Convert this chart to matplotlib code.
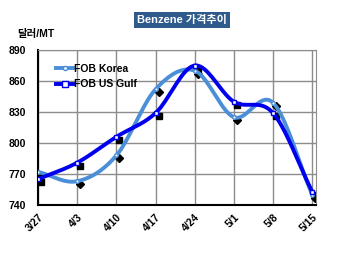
import numpy as np
import matplotlib.pyplot as plt
from matplotlib.transforms import ScaledTranslation

plt.rcParams['font.family'] = ['Liberation Sans', 'Noto Sans CJK KR', 'DejaVu Sans']

dates = ["3/27", "4/3", "4/10", "4/17", "4/24", "5/1", "5/8", "5/15"]
korea = [772, 763, 788, 852, 870, 825, 839, 750]
usgulf = [765, 781, 806, 829, 875, 840, 829, 753]


def smooth(y, n=20):
    # catmull-rom style smoothing like excel's smoothed line
    y = np.asarray(y, float)
    p = np.concatenate([[2 * y[0] - y[1]], y, [2 * y[-1] - y[-2]]])
    xs, ys = [], []
    for i in range(len(y) - 1):
        t = np.linspace(0, 1, n, endpoint=False)
        p0, p1, p2, p3 = p[i], p[i + 1], p[i + 2], p[i + 3]
        v = 0.5 * (2 * p1 + (-p0 + p2) * t + (2 * p0 - 5 * p1 + 4 * p2 - p3) * t ** 2
                   + (-p0 + 3 * p1 - 3 * p2 + p3) * t ** 3)
        xs.append(i + t)
        ys.append(v)
    xs.append([len(y) - 1])
    ys.append([y[-1]])
    return np.concatenate(xs), np.concatenate(ys)


fig = plt.figure(figsize=(3.5, 2.54), dpi=100)
ax = fig.add_axes([0.109, 0.193, 0.794, 0.61])
x = np.arange(len(dates))

shadow = ax.transData + ScaledTranslation(3 / 100, -3 / 100, fig.dpi_scale_trans)
ax.plot(x, korea, 'D', color='black', ms=4, transform=shadow, zorder=2)
ax.plot(x, usgulf, 's', color='black', ms=5, transform=shadow, zorder=2)

kx, ky = smooth(korea)
gx, gy = smooth(usgulf)
ax.plot(kx, ky, color='#4a8fd8', lw=2.8, zorder=3)
ax.plot(gx, gy, color='#0000ee', lw=2.8, zorder=4)
ax.plot(x, korea, 'o', color='#4a8fd8', mfc='white', ms=2.5, zorder=5)
ax.plot(x, usgulf, 's', color='#0000ee', mfc='white', ms=3, zorder=5)

# legend handles
ax.plot([], [], color='#4a8fd8', lw=2.8, marker='o', mfc='white', ms=3, label='FOB Korea')
ax.plot([], [], color='#0000ee', lw=2.8, marker='s', mfc='white', ms=4, label='FOB US Gulf')
ax.legend(loc='upper left', bbox_to_anchor=(0.05, 0.94), frameon=False, handlelength=1.6,
          handletextpad=0.1, borderaxespad=0, labelspacing=0.55,
          prop={'weight': 'bold', 'size': 7.5})

ax.set_xlim(0, 7.1)
ax.set_ylim(740, 890)
ax.set_yticks(range(740, 891, 30))
ax.set_xticks(x)
ax.set_xticklabels(dates, rotation=45, ha='right', rotation_mode='anchor')
ax.tick_params(labelsize=7.5, length=0)
ax.tick_params(axis='y', pad=9)
ax.tick_params(axis='x', pad=5)
for lbl in ax.get_xticklabels() + ax.get_yticklabels():
    lbl.set_fontweight('bold')
ax.grid(True, color='#8c8c8c', lw=1)
ax.set_axisbelow(True)
for s in ['top', 'right']:
    ax.spines[s].set_color('#8c8c8c')
for s in ['left', 'bottom']:
    ax.spines[s].set_color('black')
    ax.spines[s].set_linewidth(1.5)

fig.text(0.52, 0.921, "Benzene 가격추이", color='white', fontsize=8, fontweight='bold',
         ha='center', va='center',
         bbox=dict(boxstyle='square,pad=0.25', fc='#2e5a8c', ec='none'))
fig.text(0.05, 0.865, "달러/MT", fontsize=7.5, fontweight='bold', ha='left', va='center')

fig.savefig('out.png')
